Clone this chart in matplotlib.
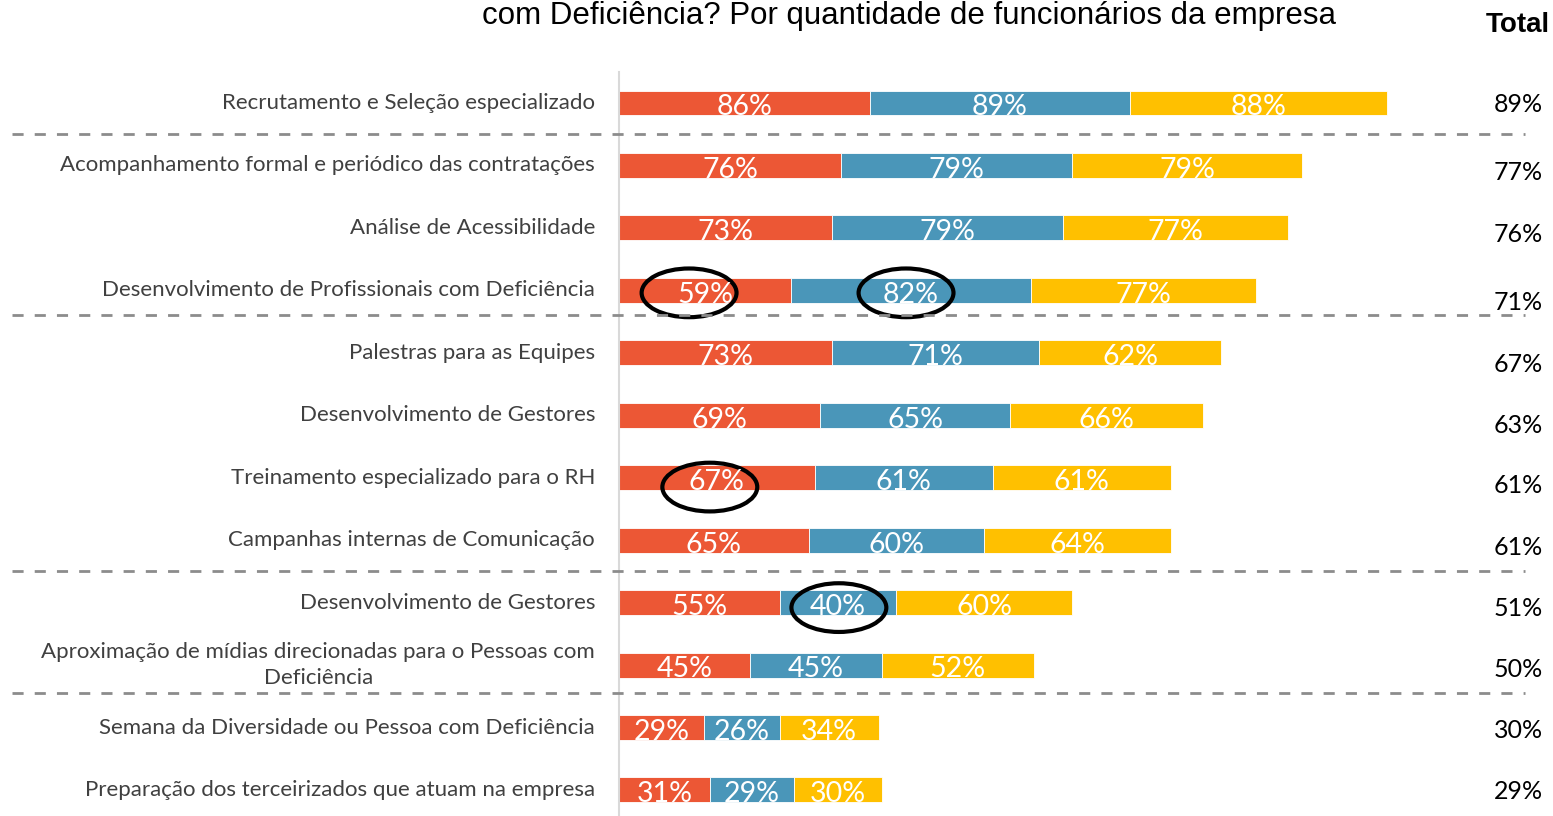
import matplotlib.pyplot as plt
from matplotlib.patches import Ellipse

categories = [
    "Recrutamento e Seleção especializado",
    "Acompanhamento formal e periódico das contratações",
    "Análise de Acessibilidade",
    "Desenvolvimento de Profissionais com Deficiência",
    "Palestras para as Equipes",
    "Desenvolvimento de Gestores",
    "Treinamento especializado para o RH",
    "Campanhas internas de Comunicação",
    "Desenvolvimento de Gestores",
    "Aproximação de mídias direcionadas para o Pessoas com\nDeficiência",
    "Semana da Diversidade ou Pessoa com Deficiência",
    "Preparação dos terceirizados que atuam na empresa",
]
serie_vermelha = [86, 76, 73, 59, 73, 69, 67, 65, 55, 45, 29, 31]
serie_azul = [89, 79, 79, 82, 71, 65, 61, 60, 40, 45, 26, 29]
serie_amarela = [88, 79, 77, 77, 62, 66, 61, 64, 60, 52, 34, 30]
total = [89, 77, 76, 71, 67, 63, 61, 61, 51, 50, 30, 29]

# (linha, serie) dos valores circulados
destaques = [(3, 0), (3, 1), (6, 0), (8, 1)]
# separadores tracejados (entre linhas)
separadores = [0.5, 3.4, 7.5, 9.45]

cores = ["#EC5735", "#4A96B9", "#FFC000"]
series = [serie_vermelha, serie_azul, serie_amarela]

W, H = 1553, 816
fig = plt.figure(figsize=(W / 100, H / 100), dpi=100)
x0 = 619
esc = 2.92          # px por ponto percentual
y0, passo = 103, 62.45
ax = fig.add_axes([x0 / W, 0, (W - x0) / W, 1])
ax.set_xlim(0, (W - x0) / esc)
ax.set_ylim((H - y0) / passo, -y0 / passo)
ax.axis("off")

px2x = lambda px: (px - x0) / esc
fonte = "Lato"

linhas = range(len(categories))
esquerda = [0] * len(categories)
for vals, cor in zip(series, cores):
    ax.barh(linhas, vals, left=esquerda, height=0.4, color=cor,
            edgecolor="white", linewidth=0.6)
    for i, v in enumerate(vals):
        ax.text(esquerda[i] + v / 2, i + 0.07, f"{v}%", ha="center", va="center",
                color="white", fontsize=20.5, family=fonte)
    esquerda = [a + b for a, b in zip(esquerda, vals)]

# eixo vertical claro
ax.plot([0, 0], [-0.5, len(categories)], color="#d9d9d9", lw=1.5, clip_on=False)

for i, nome in enumerate(categories):
    ax.text(px2x(595), i, nome, ha="right", va="center", multialignment="center",
            color="#404040", fontsize=16, family=fonte, linespacing=1.35)

ajuste_total = [0.02, 0.12, 0.1, 0.19, 0.18, 0.16, 0.13, 0.12, 0.1, 0.07, 0.05, 0.02]
for i, t in enumerate(total):
    ax.text(px2x(1543), i + ajuste_total[i], f"{t}%", ha="right", va="center",
            color="black", fontsize=18, family=fonte)

for y in separadores:
    ax.plot([px2x(12), px2x(1525)], [y, y], color="#8c8c8c", lw=2,
            ls=(0, (4, 4)), clip_on=False)

# deslocamento (x em pontos, y em linhas) de cada elipse desenhada a mao
desloc = [(-5.5, 0.04), (-1.7, 0.04), (-2.4, 0.15), (0.3, 0.08)]
for (linha, s), (dx, dy) in zip(destaques, desloc):
    inicio = sum(series[k][linha] for k in range(s))
    cx = inicio + series[s][linha] / 2 + dx
    e = Ellipse((cx, linha + dy), 32.5, 0.78, fill=False, ec="black", lw=3)
    ax.add_patch(e)

fig.text(909 / W, 1 - 16 / H, "com Deficiência? Por quantidade de funcionários da empresa",
         ha="center", va="center", fontsize=22.5, family="Liberation Sans")
fig.text(1518 / W, 1 - 25 / H, "Total", ha="center", va="center", fontsize=20,
         weight="bold", family="Liberation Sans")

fig.savefig("out.png", dpi=100)
